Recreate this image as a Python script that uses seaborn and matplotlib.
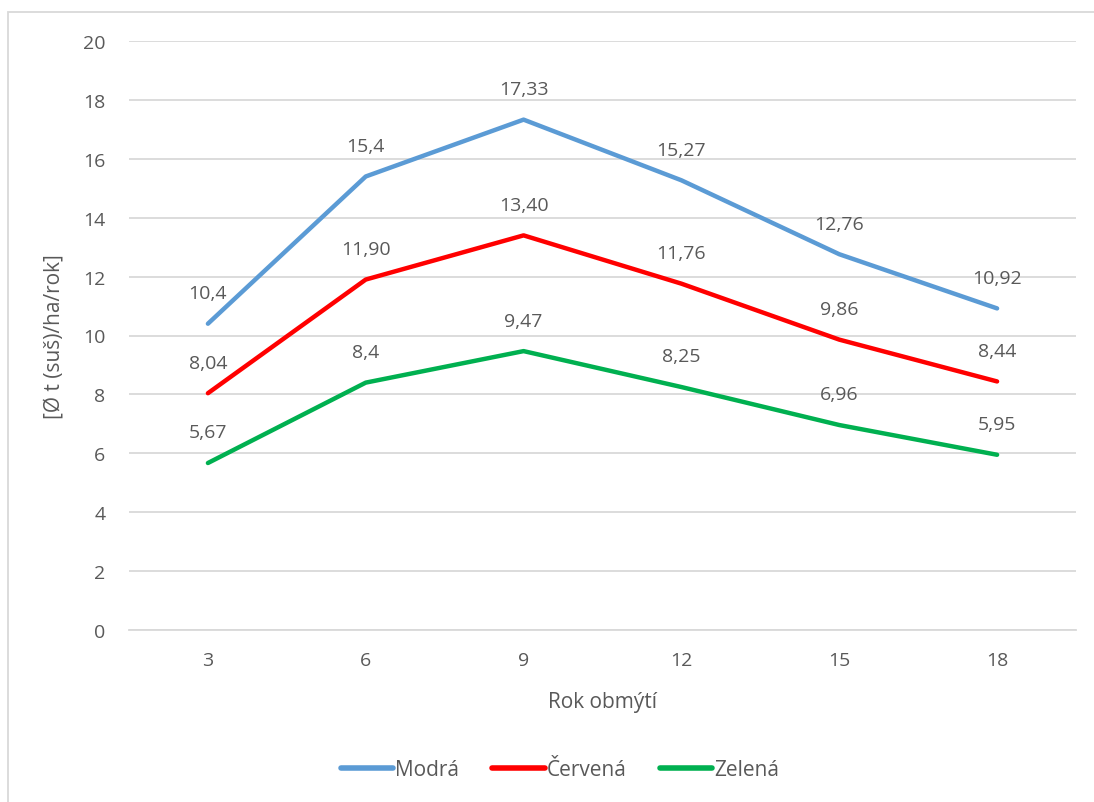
import matplotlib
matplotlib.use("Agg")
import matplotlib.pyplot as plt
from matplotlib.patches import Rectangle
import seaborn as sns
import pandas as pd

# Rotation ages (years) and average yields per series
roky = [3, 6, 9, 12, 15, 18]
serie = ["Modrá", "Červená", "Zelená"]
popisky_modra = ["10,4", "15,4", "17,33", "15,27", "12,76", "10,92"]
popisky_cervena = ["8,04", "11,90", "13,40", "11,76", "9,86", "8,44"]
popisky_zelena = ["5,67", "8,4", "9,47", "8,25", "6,96", "5,95"]
barvy = ["#5B9BD5", "#FF0000", "#00B050"]
y_ticks = [0, 2, 4, 6, 8, 10, 12, 14, 16, 18, 20]

popisky = [popisky_modra, popisky_cervena, popisky_zelena]
hodnoty = [[float(s.replace(",", ".")) for s in p] for p in popisky]

rows = []
for name, vals in zip(serie, hodnoty):
    for i, (r, v) in enumerate(zip(roky, vals)):
        rows.append({"pos": i, "rok": r, "hodnota": v, "serie": name})
df = pd.DataFrame(rows)

sns.set_theme(style="white")
plt.rcParams["font.family"] = ["Open Sans", "DejaVu Sans"]
text_color = "#595959"
grid_color = "#D9D9D9"

fig = plt.figure(figsize=(10.94, 8.03), dpi=100)
ax = fig.add_axes([129 / 1094, 1 - 631 / 803, (1076 - 129) / 1094, (631 - 42) / 803])

sns.lineplot(data=df, x="pos", y="hodnota", hue="serie", hue_order=serie,
             palette=barvy, linewidth=3.2, ax=ax, legend=True,
             solid_capstyle="round", solid_joinstyle="round")

for name, vals, labs in zip(serie, hodnoty, popisky):
    for i, (v, t) in enumerate(zip(vals, labs)):
        ax.annotate(t, (i, v), xytext=(0, 22), textcoords="offset points",
                    ha="center", va="center", fontsize=14, color=text_color)

ax.set_xlim(-0.5, len(roky) - 0.5)
ax.set_ylim(0, 20)
ax.set_xticks(range(len(roky)))
ax.set_xticklabels([str(r) for r in roky])
ax.set_yticks(y_ticks)
ax.set_yticklabels([str(t) for t in y_ticks])
ax.tick_params(axis="both", length=0, labelsize=14, colors=text_color)
ax.tick_params(axis="y", pad=17)
ax.tick_params(axis="x", pad=15)
ax.grid(axis="y", color=grid_color, linewidth=1.3)
ax.set_axisbelow(True)
for s in ["top", "right", "left"]:
    ax.spines[s].set_visible(False)
ax.spines["bottom"].set_color(grid_color)
ax.spines["bottom"].set_linewidth(1.3)

ax.set_xlabel("Rok obmýtí", fontsize=15, color=text_color, labelpad=16)
ax.set_ylabel("[Ø t (suš)/ha/rok]", fontsize=15, color=text_color, labelpad=13)

handles, labels = ax.get_legend_handles_labels()
for h in handles:
    h.set_linewidth(4)
    h.set_solid_capstyle("round")
if ax.get_legend():
    ax.get_legend().remove()
fig.legend(handles, labels, loc="center", bbox_to_anchor=(560 / 1094, 1 - 771 / 803),
           ncol=3, frameon=False, fontsize=15, handlelength=2.5,
           handletextpad=0.1, columnspacing=1.6, labelcolor=text_color)

# Chart frame
fig.patches.append(Rectangle((8 / 1094, -0.05), 1.1, 1 - 13 / 803 + 0.05,
                             transform=fig.transFigure, fill=False,
                             edgecolor=grid_color, linewidth=1.3))

fig.savefig("out.png", dpi=100, facecolor="white")
